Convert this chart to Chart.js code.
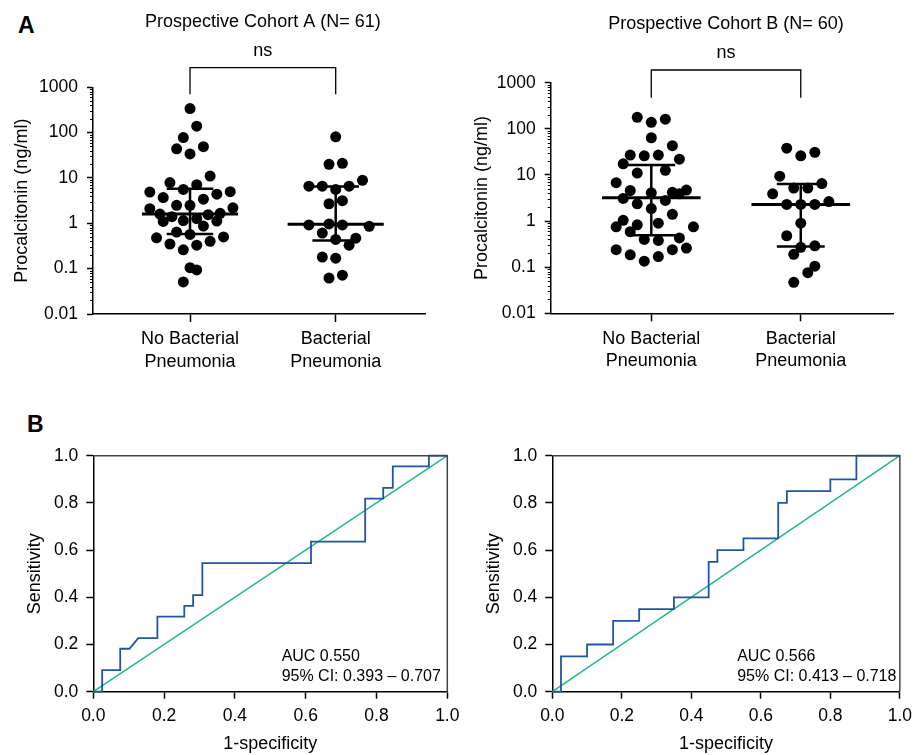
<!DOCTYPE html>
<html>
<head>
<meta charset="utf-8">
<title>Procalcitonin cohorts</title>
<script src="https://cdn.jsdelivr.net/npm/chart.js@4.4.1/dist/chart.umd.min.js"></script>
<style>
  html, body { margin: 0; padding: 0; background: #fff; }
  #fig { position: relative; width: 919px; height: 755px; overflow: hidden; }
  #fig canvas { position: absolute; left: 0; top: 0; }
  .panel-letter { position: absolute; font: bold 23px 'Liberation Sans', Arial, sans-serif; color: #000; line-height: 1; }
</style>
</head>
<body>
<div id="fig">
  <div class="panel-letter" style="left:18px;top:14px">A</div>
  <div class="panel-letter" style="left:27px;top:413px">B</div>
  <canvas id="dotA" width="919" height="755"></canvas>
  <canvas id="dotB" width="919" height="755"></canvas>
  <canvas id="rocA" width="919" height="755"></canvas>
  <canvas id="rocB" width="919" height="755"></canvas>
</div>
<script>
// ---- data ----
const groupLabels = [['No Bacterial', 'Pneumonia'], ['Bacterial', 'Pneumonia']];
const logTicks = [0.01, 0.1, 1, 10, 100, 1000];
const rocTicks = [0, 0.2, 0.4, 0.6, 0.8, 1.0];

// Cohort A, procalcitonin (ng/ml); *Cols = beeswarm column of each dot
const cohortANoBact = [340, 139, 78, 44, 49, 34, 11, 7.9, 7.1, 5.6, 4.9, 5.0, 4.4, 3.7, 3.4, 2.5, 2.5, 2.1, 2.2, 1.6,
  1.4, 1.55, 1.66, 1.1, 1.15, 1.27, 1.12, 0.87, 0.64, 0.57, 0.48, 0.5, 0.35, 0.33, 0.4, 0.26, 0.105, 0.094, 0.051];
const cohortANoBactCols = [0, 1, -1, -2, 2, 0, 3, -3, 1, -1, -6, 6, 4, -4, 2, -2, 0, -6, 6.4, -4.5,
  -2.7, 2.7, 4.5, -4, -1, 1, 4, 2, -2, 0, -5, 5, -3, 1, 3, -1, 0, 1, -1];
const cohortABact = [81, 20, 21, 6.6, 6.6, 5.6, 6.6, 8.9, 2.7, 3.16, 0.92, 0.97, 0.92, 0.86, 0.61, 0.44, 0.47, 0.33,
  0.18, 0.17, 0.062, 0.072];
const cohortABactCols = [0, -1, 1, -4, -2, 0, 2, 4, -1, 1, -4, -1, 1, 5, -2, 0, 3, 2, -2, 0, -1, 1];
const cohortAMedian = [1.6, 0.95];
const cohortAQ1 = [0.58, 0.42];
const cohortAQ3 = [5.8, 6.5];

// Cohort B
const cohortBNoBact = [178, 138, 162, 64, 43, 27, 26, 27, 22, 17.4, 11, 12.6, 6.8, 4.6, 4.1, 4.2, 4.7, 3.9, 3.1,
  2.36, 2.8, 1.87, 1.4, 1.04, 0.9, 0.75, 0.83, 0.75, 0.59, 0.4, 0.38, 0.43, 0.24, 0.185, 0.135, 0.17, 0.24, 0.26];
const cohortBNoBactCols = [-2, 0, 2, 0, 3, -3, -1, 1, 4, -4, -2, 2, -5, -3, 0, 3, 5, 4, -4,
  -2, 2, 0, 3, -4, 1, -5, -2, 6, -3, -1, 1, 4, -5, -3, -1, 1, 3, 5];
const cohortBBact = [38, 26, 31, 9.4, 5.2, 5.2, 6.5, 3.9, 2.3, 2.3, 2.3, 2.65, 0.9, 0.48, 0.27, 0.29, 0.19, 0.105,
  0.076, 0.047];
const cohortBBactCols = [-2, 0, 2, -3, -1, 1, 3, -4, -2, 0, 2, 4, 0, -2, 0, 2, -1, 2, 1, -1];
const cohortBMedian = [3.2, 2.3];
const cohortBQ1 = [0.49, 0.28];
const cohortBQ3 = [16.5, 6.4];

// ROC curves (1-specificity, sensitivity)
const rocAFpr = [0, 0.025, 0.025, 0.076, 0.076, 0.102, 0.127, 0.181, 0.181, 0.257, 0.257, 0.282, 0.282, 0.308,
  0.308, 0.615, 0.615, 0.768, 0.768, 0.819, 0.819, 0.846, 0.846, 0.948, 0.948, 1];
const rocATpr = [0, 0, 0.091, 0.091, 0.182, 0.182, 0.227, 0.227, 0.318, 0.318, 0.364, 0.364, 0.409, 0.409,
  0.545, 0.545, 0.636, 0.636, 0.818, 0.818, 0.864, 0.864, 0.955, 0.955, 1, 1];
const rocBFpr = [0, 0.025, 0.025, 0.1, 0.1, 0.175, 0.175, 0.25, 0.25, 0.35, 0.35, 0.45, 0.45, 0.475, 0.475,
  0.55, 0.55, 0.65, 0.65, 0.675, 0.675, 0.8, 0.8, 0.875, 0.875, 1];
const rocBTpr = [0, 0, 0.15, 0.15, 0.2, 0.2, 0.3, 0.3, 0.35, 0.35, 0.4, 0.4, 0.55, 0.55, 0.6, 0.6, 0.65, 0.65,
  0.8, 0.8, 0.85, 0.85, 0.9, 0.9, 1, 1];
const refLine = [0, 1];

// ---- drawing ----
const FONT = "'Liberation Sans', Arial, Helvetica, sans-serif";
Chart.defaults.font.family = FONT;
Chart.defaults.color = '#000';
Chart.defaults.animation = false;

const W = 919, H = 755;
const MED_HALF = 0.33, CAP_HALF = 0.16;
const TITLE_FONT = { size: 18, lineHeight: 1.2 };

// titles, "ns" bracket and minor log ticks for the dot plots
const dotDecor = {
    id: 'dotDecor',
    afterDraw(chart, args, opts) {
        const { ctx, chartArea } = chart;
        const xs = chart.scales.x, ys = chart.scales.y;
        const x1 = xs.getPixelForValue(1), x2 = xs.getPixelForValue(2);
        const mid = (x1 + x2) / 2;
        ctx.save();
        ctx.fillStyle = '#000';
        ctx.strokeStyle = '#000';
        ctx.textAlign = 'center';
        ctx.textBaseline = 'middle';
        ctx.font = `18px ${FONT}`;
        ctx.fillText(opts.title, mid, opts.titleY);
        ctx.fillText('ns', mid, opts.nsY);

        ctx.lineWidth = 1.3;
        ctx.beginPath();
        ctx.moveTo(x1, opts.bracketBottom);
        ctx.lineTo(x1, opts.bracketTop);
        ctx.lineTo(x2, opts.bracketTop);
        ctx.lineTo(x2, opts.bracketBottom);
        ctx.stroke();

        // minor ticks 2..9 of every decade
        ctx.lineWidth = 1;
        ctx.beginPath();
        for (let d = -2; d < 3; d++) {
            for (let m = 2; m < 10; m++) {
                const y = Math.round(ys.getPixelForValue(m * Math.pow(10, d))) + 0.5;
                ctx.moveTo(chartArea.left - 3, y);
                ctx.lineTo(chartArea.left, y);
            }
        }
        ctx.stroke();
        ctx.restore();
    }
};

// closing box and AUC text for the ROC panels
const rocDecor = {
    id: 'rocDecor',
    afterDraw(chart, args, opts) {
        const { ctx, chartArea } = chart;
        const xs = chart.scales.x, ys = chart.scales.y;
        ctx.save();
        ctx.strokeStyle = '#444';
        ctx.lineWidth = 1.5;
        ctx.beginPath();
        ctx.moveTo(chartArea.left, chartArea.top);
        ctx.lineTo(chartArea.right, chartArea.top);
        ctx.lineTo(chartArea.right, chartArea.bottom);
        ctx.stroke();

        ctx.fillStyle = '#000';
        ctx.font = `16px ${FONT}`;
        ctx.textAlign = 'left';
        ctx.textBaseline = 'middle';
        const tx = xs.getPixelForValue(opts.textX);
        opts.lines.forEach((line, i) => {
            ctx.fillText(line, tx, ys.getPixelForValue(opts.textY[i]));
        });
        ctx.restore();
    }
};

function lineSet(points, width) {
    return {
        data: points,
        showLine: true,
        spanGaps: false,
        borderColor: '#000',
        borderWidth: width,
        pointRadius: 0
    };
}

function axisBase(tickLength) {
    return {
        grid: { drawOnChartArea: false, drawTicks: true, tickLength: tickLength, tickWidth: 1.5, tickColor: '#000' },
        border: { display: true, color: '#000', width: 1.5 }
    };
}

function buildDotPlot(canvasId, p) {
    const datasets = [];
    p.groups.forEach((g, i) => {
        const cx = i + 1;
        datasets.push(lineSet([{ x: cx - MED_HALF, y: g.median }, { x: cx + MED_HALF, y: g.median }], 3));
        datasets.push(lineSet([
            { x: cx - CAP_HALF, y: g.q3 }, { x: cx + CAP_HALF, y: g.q3 }, { x: cx, y: null },
            { x: cx, y: g.q3 }, { x: cx, y: g.q1 }, { x: cx, y: null },
            { x: cx - CAP_HALF, y: g.q1 }, { x: cx + CAP_HALF, y: g.q1 }
        ], 2.5));
        datasets.push({
            data: g.values.map((v, k) => ({ x: cx + g.cols[k] * p.colStep, y: v })),
            pointRadius: 5.5,
            pointBackgroundColor: '#000',
            pointBorderWidth: 0,
            showLine: false
        });
    });

    const padLeft = p.yTitleX - TITLE_FONT.size * TITLE_FONT.lineHeight / 2;

    return new Chart(document.getElementById(canvasId), {
        type: 'scatter',
        data: { datasets },
        plugins: [dotDecor],
        options: {
            responsive: false,
            events: [],
            layout: { padding: { left: padLeft, top: p.box.top, right: W - p.box.right, bottom: 0 } },
            plugins: {
                legend: { display: false },
                tooltip: { enabled: false },
                dotDecor: p.decor
            },
            scales: {
                x: {
                    type: 'linear',
                    min: p.xMin,
                    max: p.xMax,
                    afterBuildTicks: s => { s.ticks = [{ value: 1 }, { value: 2 }]; },
                    afterFit: s => { s.height = H - p.box.bottom; },
                    ticks: {
                        autoSkip: false,
                        maxRotation: 0,
                        padding: 6,
                        font: { size: 18, lineHeight: 1.25 },
                        callback: v => groupLabels[v - 1]
                    },
                    ...axisBase(8)
                },
                y: {
                    type: 'logarithmic',
                    min: logTicks[0],
                    max: logTicks[logTicks.length - 1],
                    afterBuildTicks: s => { s.ticks = logTicks.map(v => ({ value: v })); },
                    afterFit: s => { s.width = p.box.left - padLeft; },
                    ticks: {
                        autoSkip: false,
                        padding: 9,
                        font: { size: 17.5 },
                        callback: v => String(v)
                    },
                    title: {
                        display: true,
                        text: 'Procalcitonin (ng/ml)',
                        font: TITLE_FONT,
                        padding: 0
                    },
                    ...axisBase(6)
                }
            }
        }
    });
}

function buildRoc(canvasId, p) {
    const padLeft = p.yTitleX - TITLE_FONT.size * TITLE_FONT.lineHeight / 2;
    return new Chart(document.getElementById(canvasId), {
        type: 'scatter',
        data: {
            datasets: [
                {
                    data: p.fpr.map((f, i) => ({ x: f, y: p.tpr[i] })),
                    showLine: true,
                    borderColor: '#1f55a5',
                    borderWidth: 1.8,
                    pointRadius: 0,
                    clip: 4
                },
                {
                    data: refLine.map(v => ({ x: v, y: v })),
                    showLine: true,
                    borderColor: '#1fb38e',
                    borderWidth: 1.4,
                    pointRadius: 0,
                    clip: 4
                }
            ]
        },
        plugins: [rocDecor],
        options: {
            responsive: false,
            events: [],
            layout: { padding: { left: padLeft, top: p.box.top, right: W - p.box.right, bottom: 0 } },
            plugins: {
                legend: { display: false },
                tooltip: { enabled: false },
                rocDecor: p.decor
            },
            scales: {
                x: {
                    type: 'linear',
                    min: 0,
                    max: 1,
                    afterBuildTicks: s => { s.ticks = rocTicks.map(v => ({ value: v })); },
                    afterFit: s => { s.height = H - p.box.bottom; },
                    ticks: { autoSkip: false, maxRotation: 0, padding: 7, font: { size: 17.5 }, callback: v => v.toFixed(1) },
                    title: { display: true, text: '1-specificity', font: TITLE_FONT, padding: { top: 0, bottom: 0 } },
                    ...axisBase(7)
                },
                y: {
                    type: 'linear',
                    min: 0,
                    max: 1,
                    afterBuildTicks: s => { s.ticks = rocTicks.map(v => ({ value: v })); },
                    afterFit: s => { s.width = p.box.left - padLeft; },
                    ticks: { autoSkip: false, padding: 8, font: { size: 17.5 }, callback: v => v.toFixed(1) },
                    title: { display: true, text: 'Sensitivity', font: TITLE_FONT, padding: 0 },
                    ...axisBase(7)
                }
            }
        }
    });
}

buildDotPlot('dotA', {
    box: { left: 93, right: 425, top: 87.3, bottom: 314 },
    xMin: 0.334, xMax: 2.613, colStep: 0.046, yTitleX: 22,
    decor: { title: 'Prospective Cohort A (N= 61)', titleY: 21.7, nsY: 50.7, bracketTop: 67.7, bracketBottom: 94.3 },
    groups: [
        { values: cohortANoBact, cols: cohortANoBactCols, median: cohortAMedian[0], q1: cohortAQ1[0], q3: cohortAQ3[0] },
        { values: cohortABact, cols: cohortABactCols, median: cohortAMedian[1], q1: cohortAQ1[1], q3: cohortAQ3[1] }
    ]
});

buildDotPlot('dotB', {
    box: { left: 550.7, right: 893, top: 82.7, bottom: 313.3 },
    xMin: 0.327, xMax: 2.617, colStep: 0.047, yTitleX: 481.7,
    decor: { title: 'Prospective Cohort B (N= 60)', titleY: 24.3, nsY: 53, bracketTop: 70, bracketBottom: 97.7 },
    groups: [
        { values: cohortBNoBact, cols: cohortBNoBactCols, median: cohortBMedian[0], q1: cohortBQ1[0], q3: cohortBQ3[0] },
        { values: cohortBBact, cols: cohortBBactCols, median: cohortBMedian[1], q1: cohortBQ1[1], q3: cohortBQ3[1] }
    ]
});

buildRoc('rocA', {
    box: { left: 93.3, right: 447.3, top: 455.7, bottom: 691.7 },
    yTitleX: 35, fpr: rocAFpr, tpr: rocATpr,
    decor: { lines: ['AUC 0.550', '95% CI: 0.393 \u2013 0.707'], textX: 0.532, textY: [0.148, 0.064] }
});

buildRoc('rocB', {
    box: { left: 552.3, right: 905.7, top: 455.7, bottom: 691.7 },
    yTitleX: 494, fpr: rocBFpr, tpr: rocBTpr,
    decor: { lines: ['AUC 0.566', '95% CI: 0.413 \u2013 0.718'], textX: 0.532, textY: [0.148, 0.064] }
});
</script>
</body>
</html>
